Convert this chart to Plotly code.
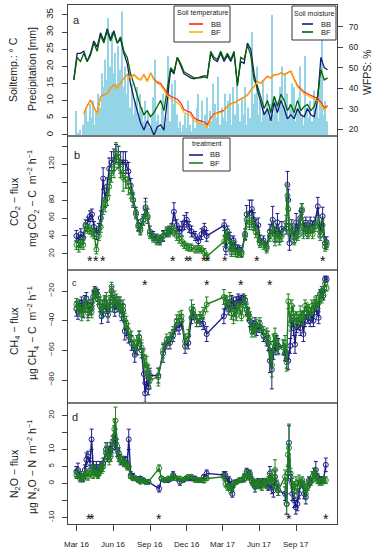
import pandas as pd
import plotly.graph_objects as go

W, H = 377, 550
FONT = "Liberation Sans, Arial, sans-serif"
ORIGIN = pd.Timestamp("2016-03-01")

# ---------------- panel a: soil climate ----------------
sm_start, sm_step = "2016-02-22 12:00", "12030min"
sm_bb = [44, 57, 57, 58, 53, 57, 63, 60, 67, 63, 69, 64, 68, 62, 64, 57, 52, 42, 35, 29,
         23, 19.5, 24, 21, 17, 21, 22, 19.5, 34, 49, 47, 55, 51, 47, 46, 45, 44.5, 45, 45.5, 46,
         46, 57, 54, 53, 57, 53, 56, 53, 57, 42, 53, 52, 62, 59, 47, 39, 33, 27, 30, 24,
         33, 28, 34, 30, 25, 27, 25, 30, 27, 26, 30, 27, 26, 34, 55, 50, 49]
sm_bf = [44, 55, 53, 57, 53, 56, 62, 58, 66, 62, 68, 63, 67, 62, 65, 58, 55, 47, 42, 36,
         31, 27, 29, 26, 28, 31, 34, 29, 40, 50, 48, 55, 52, 48, 47, 46, 45, 45, 45, 45.5,
         45, 58, 55, 54, 58, 54, 57, 54, 58, 41, 55, 54, 61, 56, 44, 41, 36, 30, 34, 28,
         36, 31, 37, 34, 29, 32, 28, 34, 29, 31, 32, 29, 31, 36, 49, 44, 45]
st_bb = [None, None, None, 6.2, 8.5, 10.2, 8.2, 6.2, 11.2, 11.6, 12.1, 13.6, 14.6, 13.6, 15.1,
         16.6, 17.6, 16.6, 17.6, 16.6, 16.1, 17.6, 15.7, 18.1, 16.3, 15.4, 15.0, 13.6, 12.2, 11.3,
         10.9, 10.4, 9.4, 7.4, 6.9, 6.6, 5.0, 4.4, 4.1, 3.8, 3.0, 5.0, 6.1, 6.5, 6.7,
         7.2, 8.4, 9.1, 9.4, 9.9, 10.6, 11.1, 11.6, 13.1, 14.1, 15.6, 15.1, 16.1, 17.1, 16.6,
         17.6, 17.6, 18.1, 17.6, 18.1, 18.6, 16.3, 14.4, 13.5, 12.5, 12.0, 11.5, 11.0, 10.6, 9.6,
         7.9, 8.6]
st_bf = [None, None, None, 6, 8.3, 10, 8, 6, 11, 11.5, 12, 13.5, 14.5, 13.5, 15,
         16.5, 17.5, 16.5, 17.5, 16.5, 16, 17.5, 15.5, 18, 16, 15, 14.5, 13, 11.5, 10.5,
         10, 9.5, 8.5, 6.5, 6, 5.8, 4.2, 3.6, 3.3, 3.0, 2.2, 4.5, 5.8, 6.3, 6.5,
         7, 8.3, 9, 9.3, 9.8, 10.5, 11, 11.5, 13, 14, 15.5, 15, 16, 17, 16.5,
         17.5, 17.5, 18, 17.5, 18, 18.5, 16, 14, 13, 12, 11.5, 11, 10.5, 10, 9,
         7.3, 8.3]
pr_start, pr_step = "2016-02-29 04:00", "6015min"
precip = [7, 0.5, 1.5, 0, 3, 6, 8, 4, 9, 5,
          10, 3, 7, 12, 8, 18, 14, 22, 16, 34,
          20, 30, 18, 24, 15, 26, 19, 36, 14, 20,
          12, 18, 8, 15, 6, 10, 14, 5, 12, 8,
          4, 10, 3, 7, 2, 5, 11, 22, 4, 6,
          2, 8, 12, 3, 5, 23, 4, 15, 9, 16,
          6, 2, 4, 1, 3, 6, 2, 10, 3, 1,
          5, 2, 8, 12, 4, 10, 3, 6, 11, 2,
          7, 4, 15, 9, 5, 17, 3, 8, 5, 12,
          4, 10, 12, 3, 14, 6, 15, 9, 4, 11,
          6, 14, 3, 8, 5, 30, 9, 12, 20, 6,
          10, 4, 16, 7, 12, 5, 9, 35, 6, 11,
          10, 4, 14, 20, 8, 18, 12, 5, 9, 15,
          14, 4, 7, 11, 20, 6, 3, 23, 8, 5,
          10, 4, 13, 7, 9, 5, 16, 28, 6, 10,
          4]

# ---------------- panel b: CO2 ----------------
co2_day = [-1, 5, 10, 16, 22, 27, 33, 38, 43, 49,
           55, 60, 66, 71, 76, 81, 87, 93, 98, 104,
           109, 116, 122, 129, 135, 141, 148, 154, 159, 166,
           172, 177, 183, 191, 200, 208, 216, 225, 231, 237,
           243, 250, 256, 263, 269, 275, 281, 287, 296, 304,
           312, 319, 325, 369, 373, 377, 383, 387, 392, 396,
           402, 407, 412, 421, 425, 432, 438, 443, 448, 454,
           458, 467, 475, 483, 490, 496, 502, 507, 513, 524,
           527, 529, 532, 538, 544, 549, 553, 559, 563, 567,
           573, 578, 584, 590, 596, 603, 609, 615, 621, 625]
co2_bb = [40, 35, 42, 38, 52, 55, 62, 64, 50, 42,
          48, 60, 104, 80, 95, 115, 122, 125, 132, 128,
          122, 122, 122, 112, 96, 80, 66, 52, 48, 58,
          72, 62, 45, 40, 37, 35, 40, 44, 46, 48,
          67, 52, 45, 48, 55, 58, 50, 45, 40, 34,
          42, 48, 40, 52, 25, 45, 38, 25, 35, 28,
          25, 24, 22, 42, 64, 65, 70, 58, 50, 52,
          35, 35, 28, 45, 58, 42, 55, 40, 48, 48,
          97, 80, 32, 50, 38, 55, 45, 60, 68, 48,
          55, 45, 55, 50, 55, 73, 45, 62, 32, 33]
co2_bf = [30, 27, 32, 30, 50, 48, 47, 44, 42, 25,
          40, 50, 72, 75, 82, 95, 110, 115, 132, 128,
          115, 105, 103, 96, 90, 80, 64, 50, 46, 57,
          70, 60, 42, 38, 35, 36, 40, 45, 44, 48,
          46, 40, 37, 34, 30, 28, 27, 27, 25, 25,
          25, 22, 17, 34, 40, 42, 30, 22, 30, 22,
          20, 22, 20, 40, 58, 55, 55, 52, 44, 40,
          32, 30, 26, 40, 48, 35, 45, 35, 40, 55,
          85, 70, 45, 48, 35, 45, 40, 55, 70, 42,
          50, 42, 48, 42, 50, 55, 40, 52, 28, 30]
co2_bb_err = [6, 6, 6, 6, 6, 6, 6, 6, 6, 6,
              6, 8, 12, 8, 10, 12, 12, 12, 10, 12,
              12, 12, 12, 10, 8, 8, 6, 6, 6, 6,
              10, 8, 6, 5, 5, 5, 6, 5, 5, 6,
              10, 6, 6, 8, 8, 8, 6, 6, 5, 5,
              6, 6, 6, 6, 6, 6, 6, 6, 5, 5,
              5, 5, 5, 6, 10, 15, 10, 8, 8, 8,
              6, 5, 5, 8, 15, 8, 10, 6, 8, 6,
              15, 12, 8, 8, 6, 10, 6, 8, 8, 6,
              6, 6, 6, 6, 6, 10, 6, 10, 6, 6]
co2_bf_err = [5, 5, 5, 5, 5, 5, 5, 5, 5, 5,
              5, 6, 8, 8, 8, 10, 10, 10, 12, 12,
              10, 15, 10, 10, 8, 6, 5, 5, 5, 5,
              8, 6, 5, 5, 5, 5, 5, 5, 5, 5,
              6, 5, 5, 5, 4, 4, 4, 4, 4, 4,
              4, 4, 4, 6, 6, 6, 5, 5, 5, 5,
              4, 4, 4, 5, 8, 8, 8, 6, 6, 6,
              5, 5, 5, 6, 8, 6, 6, 5, 6, 8,
              12, 10, 8, 6, 5, 6, 5, 6, 6, 5,
              5, 5, 5, 5, 5, 6, 5, 6, 5, 5]
co2_star_day = [33, 49, 66, 241, 275, 283, 318, 327, 371, 452, 615]
co2_star_level = 13.3

# ---------------- panel c: CH4 ----------------
ch4_day = [-1, 3, 8, 12, 16, 20, 24, 28, 33, 37,
           41, 45, 49, 53, 58, 62, 66, 70, 74, 78,
           83, 87, 91, 95, 99, 104, 108, 112, 116, 120,
           124, 129, 137, 145, 151, 156, 162, 168, 171, 175,
           179, 183, 204, 216, 225, 233, 241, 250, 256, 262,
           271, 279, 287, 291, 300, 308, 316, 325, 368, 373,
           379, 383, 387, 392, 396, 400, 404, 408, 412, 417,
           421, 425, 429, 433, 438, 442, 446, 450, 458, 467,
           475, 479, 483, 488, 492, 496, 500, 504, 517, 521,
           525, 529, 534, 538, 542, 546, 550, 554, 559, 563,
           567, 571, 575, 579, 584, 588, 592, 596, 600, 605,
           609, 613, 617, 621, 625]
ch4_bb = [-32, -34, -30, -28, -33, -27, -25, -33, -30, -32,
          -24, -20, -21, -23, -30, -37, -33, -28, -31, -36,
          -30, -20, -27, -33, -28, -30, -28, -36, -33, -47,
          -45, -50, -55, -63, -58, -51, -60, -76, -89, -80,
          -85, -77, -77, -62, -55, -55, -50, -43, -45, -40,
          -57, -55, -38, -35, -40, -40, -42, -49, -37, -28,
          -32, -30, -27, -28, -33, -28, -25, -27, -26, -25,
          -26, -32, -36, -40, -45, -44, -42, -46, -44, -50,
          -52, -55, -67, -73, -60, -58, -55, -57, -58, -62,
          -66, -67, -57, -40, -45, -56, -44, -42, -45, -38,
          -49, -40, -35, -38, -40, -36, -40, -30, -32, -38,
          -22, -20, -23, -12, -12]
ch4_bf = [-29, -30, -33, -36, -32, -30, -28, -35, -32, -34,
          -26, -21, -22, -25, -28, -34, -30, -27, -25, -33,
          -27, -17, -30, -24, -26, -28, -30, -34, -30, -40,
          -42, -47, -52, -58, -55, -51, -58, -65, -70, -70,
          -75, -80, -78, -60, -53, -52, -48, -40, -38, -37,
          -54, -50, -32, -33, -40, -38, -35, -29, -24, -27,
          -30, -25, -35, -38, -32, -36, -30, -32, -37, -28,
          -26, -33, -35, -38, -47, -45, -47, -43, -42, -48,
          -50, -52, -60, -70, -55, -50, -56, -58, -58, -55,
          -68, -27, -42, -30, -35, -40, -38, -40, -35, -38,
          -38, -30, -32, -33, -35, -30, -32, -28, -27, -28,
          -22, -25, -20, -15, -18]
ch4_bb_err = [5, 5, 4, 4, 5, 4, 4, 5, 4, 4,
              4, 3, 3, 4, 4, 5, 4, 4, 4, 5,
              4, 3, 4, 4, 4, 4, 4, 4, 4, 6,
              5, 5, 5, 5, 5, 4, 5, 6, 6, 6,
              5, 5, 5, 6, 4, 4, 4, 4, 4, 4,
              5, 4, 4, 4, 4, 4, 4, 5, 5, 4,
              4, 4, 4, 4, 4, 4, 3, 3, 3, 3,
              3, 4, 4, 4, 4, 4, 4, 4, 4, 4,
              5, 5, 8, 13, 6, 5, 5, 5, 5, 5,
              6, 6, 5, 4, 5, 6, 4, 4, 5, 4,
              5, 4, 4, 4, 4, 4, 4, 4, 4, 4,
              3, 3, 3, 2, 2]
ch4_bf_err = [4, 4, 4, 4, 5, 4, 4, 5, 4, 4,
              4, 3, 3, 4, 4, 4, 4, 4, 4, 5,
              4, 3, 4, 4, 4, 4, 4, 4, 4, 5,
              5, 5, 5, 5, 5, 4, 5, 6, 7, 6,
              5, 6, 6, 5, 4, 4, 4, 4, 4, 4,
              5, 4, 6, 4, 4, 4, 4, 5, 5, 4,
              4, 4, 4, 4, 4, 4, 3, 3, 3, 3,
              3, 4, 4, 4, 4, 4, 4, 4, 4, 4,
              5, 5, 6, 8, 6, 5, 5, 5, 5, 5,
              6, 5, 5, 4, 5, 5, 4, 4, 5, 4,
              5, 4, 4, 4, 4, 4, 4, 4, 4, 4,
              3, 3, 3, 2, 2]
ch4_star_day = [170, 325, 412, 484]
ch4_star_level = -15.3

# ---------------- panel d: N2O ----------------
n2o_day = [-1, 3, 8, 12, 16, 20, 24, 28, 33, 37,
           41, 45, 49, 53, 58, 62, 66, 73, 77, 81,
           85, 89, 94, 97, 101, 105, 109, 114, 118, 122,
           126, 130, 135, 141, 148, 154, 159, 166, 172, 179,
           206, 212, 220, 229, 237, 241, 250, 258, 266, 273,
           279, 287, 296, 304, 312, 318, 325, 368, 372, 377,
           381, 385, 389, 393, 400, 407, 412, 419, 425, 429,
           433, 438, 442, 446, 450, 454, 458, 463, 467, 471,
           475, 479, 483, 488, 492, 496, 500, 504, 521, 525,
           528, 531, 535, 539, 544, 548, 552, 556, 560, 564,
           569, 573, 577, 581, 585, 590, 594, 598, 602, 607,
           613, 617, 623]
n2o_bb = [3.5, 4, 2.5, 2, 1.5, 4, 7, 8, 6, 13,
          5, 4, 5, 3, 5, 5, 6, 10, 8, 9,
          10, 11, 14, 13, 10, 9, 7, 7, 6, 7,
          5.5, 13, 2.5, 2, 1.5, 1, 1.5, 1, 0.5, 0.5,
          -1.5, 1.5, 1, 1, 1.5, 2.5, 1.5, 0.5, 1, 1.5,
          1.5, 1.5, 1.5, 1, 1, 2, 3, 2.5, 2.5, 0.5,
          1, -0.5, -3, 0, 0.5, 1, 1, 1.5, 3.5, 2.5,
          3, 1, 0, -1, 0, 0.5, -0.5, 0, 0.5, 0.5,
          0, -1, 3, -1, -2, 2, 0, -2, -3, -6,
          3, 12, 2, -3, -5, -7, -6, -3, 0, 0,
          -3, -4, -1, 1, 0.5, 2, 3, 4, 2, 1,
          1, 1, 5.5]
n2o_bf = [2.5, 3, 1.5, 1.5, 2, 2.5, 3, 2, 3, 4,
          2.5, 4, 3, 2.5, 4, 4.5, 5, 9, 10, 7,
          8, 12, 16, 18.5, 11, 8, 7, 7, 6, 6,
          5, 5, 2, 1.5, 1.5, 1, 0.5, 1, 0.5, 0.5,
          4.5, 1.5, 1, 1.5, 1.5, 2, 1.5, 1.5, 1, 1.5,
          2, 2, 1, 1, 1, 0.8, 1.5, 2, 0, -1,
          -1, -2, -1, 0, 0.5, 1, 1, 2, 3, 2,
          2.5, 0.5, 0.5, -0.5, 0, -0.5, 0.5, -1, 0, 0.5,
          -0.5, 1, 1.5, 2, 0, 4, -1, -2, 2, -6,
          8.5, 10.5, 3, 0, -2, 0, -1, 1, 0, 1,
          -1, -3, -1, 0, 1, 2, 3, 2.5, 1, 0.5,
          0.5, 1, 1]
n2o_bb_err = [1.5, 2, 1, 1, 1, 1.5, 2, 1.5, 1.5, 3,
              1.5, 1.5, 1.5, 1, 1.5, 1.5, 1.5, 2, 1.5, 2,
              2, 2, 3, 3, 2, 1.5, 1.5, 1, 1, 1,
              1, 3, 1, 1, 0.5, 0.5, 0.5, 0.5, 0.5, 0.5,
              1, 0.5, 0.5, 0.5, 0.5, 1, 0.5, 1, 0.5, 0.5,
              0.5, 0.5, 0.5, 0.5, 0.5, 0.5, 1, 1, 1, 1,
              1, 1, 1, 1, 0.5, 0.5, 0.5, 1, 1, 1,
              1, 1, 1, 1.5, 1, 1, 1, 1, 1, 1,
              1, 1, 2, 2, 2, 2, 1, 1.5, 2, 3,
              2, 5, 1.5, 2, 2, 2, 2, 1.5, 1, 1,
              1.5, 2, 1, 1, 1, 1.5, 1.5, 2.5, 1, 1,
              1, 1, 2]
n2o_bf_err = [1, 1, 1, 1, 1, 1, 1, 1, 1, 1.5,
              1, 1.5, 1, 1, 1.5, 1.5, 1.5, 2, 2, 1.5,
              1.5, 2, 3, 4, 2, 1.5, 1, 1, 1, 1,
              1, 1, 0.5, 0.5, 0.5, 0.5, 0.5, 0.5, 0.5, 0.5,
              1, 0.5, 0.5, 0.5, 0.5, 1, 0.5, 0.5, 0.5, 0.5,
              0.5, 0.5, 0.5, 0.5, 0.5, 0.5, 0.5, 1, 1, 1,
              1, 1, 1, 0.5, 0.5, 0.5, 0.5, 1, 1, 1,
              1, 1, 1, 1, 1, 1, 1, 1, 1, 1,
              1, 1, 1.5, 2, 1.5, 3, 1, 1.5, 2, 3,
              3, 7, 1.5, 1.5, 2, 2, 2, 1.5, 1, 1,
              1.5, 1.5, 1, 1, 1, 1.5, 1.5, 1.5, 1, 1,
              1, 1, 1]
n2o_star_day = [31, 39, 206, 530, 624]
n2o_star_level = -10

tick_dates = ["2016-03-01", "2016-06-01", "2016-09-01", "2016-12-01",
              "2017-03-01", "2017-06-01", "2017-09-01"]
tick_text = ["Mar 16", "Jun 16", "Sep 16", "Dec 16", "Mar 17", "Jun 17", "Sep 17"]
x_range = ["2016-02-08", "2017-12-12"]

# ---------------- colours ----------------
C_BB = "#1d1d85"
C_BF = "#1f7f1f"
C_SMBB = "#191970"
C_SMBF = "#006400"
C_TBB = "#ff2020"
C_TBF = "#ffb400"
C_PR = "#93d4e6"
FRAME = "#444444"
SEP = "#8a8a8a"


def days(d):
    return [ORIGIN + pd.Timedelta(days=v) for v in d]


def px(x):
    return x / W


def py(y):
    return 1 - y / H


sm_dates = pd.date_range(sm_start, periods=len(sm_bb), freq=sm_step)
pr_dates = pd.date_range(pr_start, periods=len(precip), freq=pr_step)
bar_w = pd.Timedelta(pr_step).total_seconds() * 1000 * 0.6

fig = go.Figure()
fig.add_trace(go.Bar(x=pr_dates, y=precip, width=bar_w, marker=dict(color=C_PR, line_width=0),
                     xaxis="x", yaxis="y"))
fig.add_trace(go.Scatter(x=sm_dates, y=sm_bb, mode="lines", line=dict(color=C_SMBB, width=1.3),
                         xaxis="x", yaxis="y2"))
fig.add_trace(go.Scatter(x=sm_dates, y=sm_bf, mode="lines", line=dict(color=C_SMBF, width=1.3),
                         xaxis="x", yaxis="y2"))
fig.add_trace(go.Scatter(x=sm_dates, y=st_bb, mode="lines", line=dict(color=C_TBB, width=1.2),
                         xaxis="x", yaxis="y6"))
fig.add_trace(go.Scatter(x=sm_dates, y=st_bf, mode="lines", line=dict(color=C_TBF, width=1.2),
                         xaxis="x", yaxis="y6"))


def flux(day, bb, bbe, bf, bfe, xa, ya):
    for vals, err, col in ((bb, bbe, C_BB), (bf, bfe, C_BF)):
        fig.add_trace(go.Scatter(
            x=days(day), y=vals, mode="lines+markers", xaxis=xa, yaxis=ya,
            line=dict(color=col, width=1.4),
            marker=dict(symbol="circle-open", size=5, color=col, line=dict(width=1)),
            error_y=dict(type="data", array=err, color=col, thickness=1, width=2)))


flux(co2_day, co2_bb, co2_bb_err, co2_bf, co2_bf_err, "x2", "y3")
flux(ch4_day, ch4_bb, ch4_bb_err, ch4_bf, ch4_bf_err, "x3", "y4")
flux(n2o_day, n2o_bb, n2o_bb_err, n2o_bf, n2o_bf_err, "x4", "y5")

XD = [px(68), px(337)]
dom = {"a": [py(136), py(5)], "b": [py(270), py(136)],
       "c": [py(403), py(270)], "d": [py(524), py(403)]}

xcommon = dict(type="date", range=x_range, domain=XD, showline=True, mirror=True,
               linecolor=FRAME, linewidth=1, showgrid=False, zeroline=False,
               tickvals=tick_dates, showticklabels=False)
ycommon = dict(showline=True, mirror=True, linecolor=FRAME, linewidth=1, showgrid=False,
               zeroline=False, ticks="outside", ticklen=5, tickcolor=FRAME, tickangle=-90,
               ticklabelstandoff=5, tickfont=dict(family=FONT, size=8, color="#222"))

fig.update_layout(
    width=W, height=H, margin=dict(l=0, r=0, t=0, b=0),
    paper_bgcolor="white", plot_bgcolor="white", showlegend=False,
    font=dict(family=FONT, color="#222"),
    xaxis=dict(**xcommon, anchor="y", ticks=""),
    xaxis2=dict(**xcommon, anchor="y3", ticks=""),
    xaxis3=dict(**xcommon, anchor="y4", ticks=""),
    xaxis4=dict(**xcommon, anchor="y5", ticks="outside", ticklen=6, tickcolor=FRAME),
    yaxis=dict(**{**ycommon, "tickfont": dict(family=FONT, size=9.5, color="#222")},
               domain=dom["a"], range=[-0.3, 37.9], tickvals=list(range(0, 36, 5)),
               anchor="x"),
    yaxis2=dict(overlaying="y", side="right", anchor="x", range=[16.6, 80.6],
                tickvals=[20, 30, 40, 50, 60, 70], ticks="outside", ticklen=5,
                tickcolor=FRAME, showgrid=False, zeroline=False, showline=False,
                ticklabelstandoff=4, tickfont=dict(family=FONT, size=8.5, color="#222")),
    yaxis6=dict(overlaying="y", anchor="x", range=[-0.3, 37.9], visible=False),
    yaxis3=dict(**ycommon, domain=dom["b"], range=[2, 151.5],
                tickvals=[20, 40, 60, 80, 100, 120, 140],
                ticktext=["20", "40", "60", "80", "", "120", ""], anchor="x2"),
    yaxis4=dict(**ycommon, domain=dom["c"], range=[-95.5, -5.8],
                tickvals=[-80, -60, -40, -20], anchor="x3"),
    yaxis5=dict(**ycommon, domain=dom["d"], range=[-11.9, 23.7],
                tickvals=[-10, -5, 0, 5, 10, 15, 20],
                ticktext=["-10", "", "0", "5", "10", "", "20"], anchor="x4"),
)

ann = []
shapes = []


def text(x, y, t, size, angle=0, xanchor="center", color="#222"):
    ann.append(dict(x=px(x), y=py(y), xref="paper", yref="paper", text=t, showarrow=False,
                    textangle=angle, xanchor=xanchor, yanchor="middle",
                    font=dict(family=FONT, size=size, color=color)))


# x tick labels (date positions on the shared x scale, placed below panel d)
for d, lab in zip(tick_dates, tick_text):
    ann.append(dict(x=d, y=py(544), xref="x4", yref="paper", text=lab, showarrow=False,
                    xanchor="center", yanchor="middle",
                    font=dict(family=FONT, size=8, color="#222")))

# grey separators between panels
for yy in (136, 270, 403):
    shapes.append(dict(type="line", xref="paper", yref="paper", x0=XD[0], x1=XD[1],
                       y0=py(yy), y1=py(yy), line=dict(color=SEP, width=1.6), layer="above"))

# y-axis titles
text(13, 70, "Soiltemp.: ° C", 10.5, -90)
text(32, 69, "Precipitation [mm]", 10.5, -90)
text(367, 72, "WFPS: %", 10.5, -90)
text(15, 202, "CO<sub>2</sub> − flux", 10.5, -90)
text(33, 199, "mg CO<sub>2</sub> − C  m<sup>−2</sup> h<sup>−1</sup>", 10.5, -90)
text(15, 331, "CH<sub>4</sub> − flux", 10.5, -90)
text(33, 333, "µg CH<sub>4</sub> − C  m<sup>−2</sup> h<sup>−1</sup>", 10.5, -90)
text(15, 474, "N<sub>2</sub>O − flux", 10.5, -90)
text(33, 467, "µg N<sub>2</sub>O − N  m<sup>−2</sup> h<sup>−1</sup>", 10.5, -90)

# panel letters
text(76, 20, "a", 11)
text(77, 155, "b", 11)
text(74, 283, "c", 9)
text(75, 417, "d", 11)


def legend_box(x0, y0, x1, y1, title, ty, items):
    shapes.append(dict(type="rect", xref="paper", yref="paper", x0=px(x0), x1=px(x1),
                       y0=py(y1), y1=py(y0), fillcolor="white",
                       line=dict(color="#333", width=1), layer="above"))
    text((x0 + x1) / 2, ty, title, 7)
    for (lx0, lx1, ly, col, lab, tx) in items:
        shapes.append(dict(type="line", xref="paper", yref="paper", x0=px(lx0), x1=px(lx1),
                           y0=py(ly), y1=py(ly), line=dict(color=col, width=1.6),
                           layer="above"))
        text(tx, ly, lab, 7.5, xanchor="left")


legend_box(174, 6, 230, 42, "Soil temperature", 13,
           [(189, 203, 24, C_TBB, "BB", 209), (189, 203, 32, C_TBF, "BF", 209)])
legend_box(292, 6, 336, 40, "Soil moisture", 13,
           [(302, 313, 24, C_SMBB, "BB", 319), (302, 313, 32, C_SMBF, "BF", 319)])
legend_box(183, 138, 230, 171, "treatment", 143,
           [(189, 203, 155, C_BB, "BB", 208), (189, 203, 163, C_BF, "BF", 208)])

# significance stars
for sd, lvl, xr, yr in ((co2_star_day, co2_star_level, "x2", "y3"),
                        (ch4_star_day, ch4_star_level, "x3", "y4"),
                        (n2o_star_day, n2o_star_level, "x4", "y5")):
    for d in days(sd):
        ann.append(dict(x=d, y=lvl, xref=xr, yref=yr, text="*", showarrow=False,
                        yshift=-1, font=dict(family=FONT, size=14, color="#111")))

fig.update_layout(annotations=ann, shapes=shapes)
fig.write_html(
    "out.html",
    config={"displayModeBar": False},
    post_script="document.body.style.margin='0';document.body.style.padding='0';"
                "document.body.style.overflow='hidden';",
)
